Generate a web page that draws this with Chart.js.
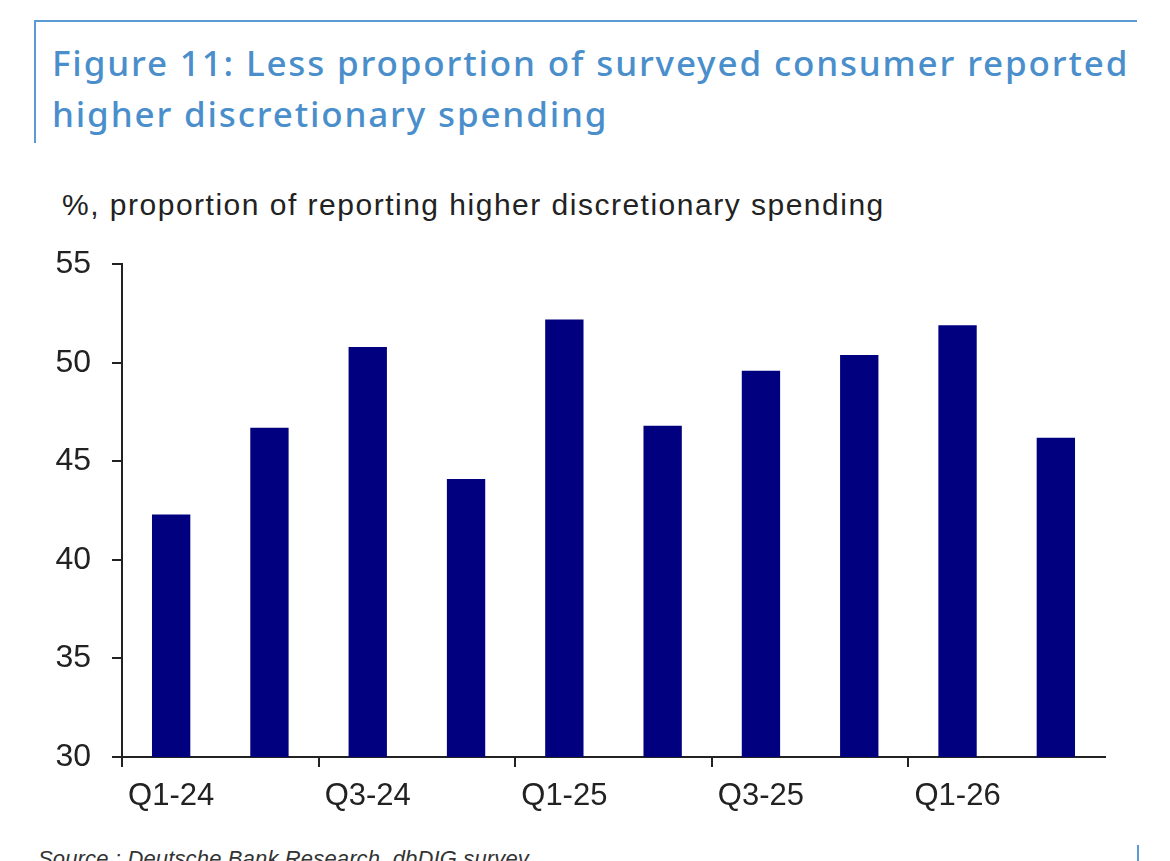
<!DOCTYPE html>
<html>
<head>
<meta charset="utf-8">
<script src="https://cdn.jsdelivr.net/npm/chart.js@4.4.1/dist/chart.umd.min.js"></script>
<style>
  body { margin: 0; background: #fff; width: 1170px; height: 861px; overflow: hidden; position: relative; font-family: "Liberation Sans", Arial, sans-serif; }
  #frame { position: absolute; left: 34px; top: 20px; width: 1101px; height: 121px; border-top: 2.5px solid #5b9bd5; border-left: 2px solid #5b9bd5; }
  #title { position: absolute; left: 52px; top: 37px; font-family: "Noto Sans", sans-serif; font-size: 35px; font-weight: 500; letter-spacing: 1.85px; line-height: 51px; color: #4a8fcb; white-space: nowrap; }
  #ytitle { position: absolute; left: 62px; top: 188px; font-size: 30px; letter-spacing: 1.5px; color: #222; white-space: nowrap; }
  #source { position: absolute; left: 38px; top: 846px; font-size: 22px; letter-spacing: 0.15px; font-style: italic; color: #333; white-space: nowrap; }
  #corner { position: absolute; left: 1137px; top: 845px; width: 2px; height: 20px; background: #5b9bd5; }
  #wrap { position: absolute; left: 0; top: 224px; width: 1170px; height: 616px; }
</style>
</head>
<body>
<div id="frame"></div>
<div id="title">Figure 11: Less proportion of surveyed consumer reported<br>higher discretionary spending</div>
<div id="ytitle">%, proportion of reporting higher discretionary spending</div>
<div id="wrap"><canvas id="chart"></canvas></div>
<div id="source">Source : Deutsche Bank Research, dbDIG survey</div>
<div id="corner"></div>
<script>
"use strict";

const quarters = ["Q1-24", "Q2-24", "Q3-24", "Q4-24", "Q1-25", "Q2-25", "Q3-25", "Q4-25", "Q1-26", "Q2-26"];
const shareHigher = [42.3, 46.7, 50.8, 44.1, 52.2, 46.8, 49.6, 50.4, 51.9, 46.2];
const yTicks = [30, 35, 40, 45, 50, 55];

const fontFamily = "'Liberation Sans', Arial, sans-serif";

const ctx = document.getElementById("chart").getContext("2d");
new Chart(ctx, {
  type: "bar",
  data: {
    labels: quarters,
    datasets: [{
      data: shareHigher,
      backgroundColor: "#01017f",
      categoryPercentage: 1,
      barPercentage: 0.39
    }]
  },
  options: {
    responsive: true,
    maintainAspectRatio: false,
    animation: false,
    layout: { padding: { top: 37, right: 65, left: 0, bottom: 0 } },
    plugins: { legend: { display: false }, tooltip: { enabled: false } },
    scales: {
      x: {
        offset: true,
        grid: {
          offset: true,
          drawOnChartArea: false,
          tickLength: 10,
          lineWidth: 2,
          color: c => (c.index % 2 === 0 ? "#222" : "rgba(0,0,0,0)")
        },
        border: { color: "#222", width: 2 },
        ticks: {
          autoSkip: false,
          maxRotation: 0,
          padding: 11,
          color: "#222",
          font: { family: fontFamily, size: 31 },
          callback: (v, i) => (i % 2 === 0 ? quarters[i] : "")
        },
        afterFit: s => { s.height = 83; }
      },
      y: {
        min: yTicks[0],
        max: yTicks[yTicks.length - 1],
        afterBuildTicks: s => { s.ticks = yTicks.map(v => ({ value: v })); },
        grid: { drawOnChartArea: false, tickLength: 10, lineWidth: 2, color: "#222" },
        border: { color: "#222", width: 2 },
        ticks: { padding: 21, color: "#222", font: { family: fontFamily, size: 32 } },
        afterFit: s => { s.width = 122; }
      }
    }
  }
});
</script>
</body>
</html>
